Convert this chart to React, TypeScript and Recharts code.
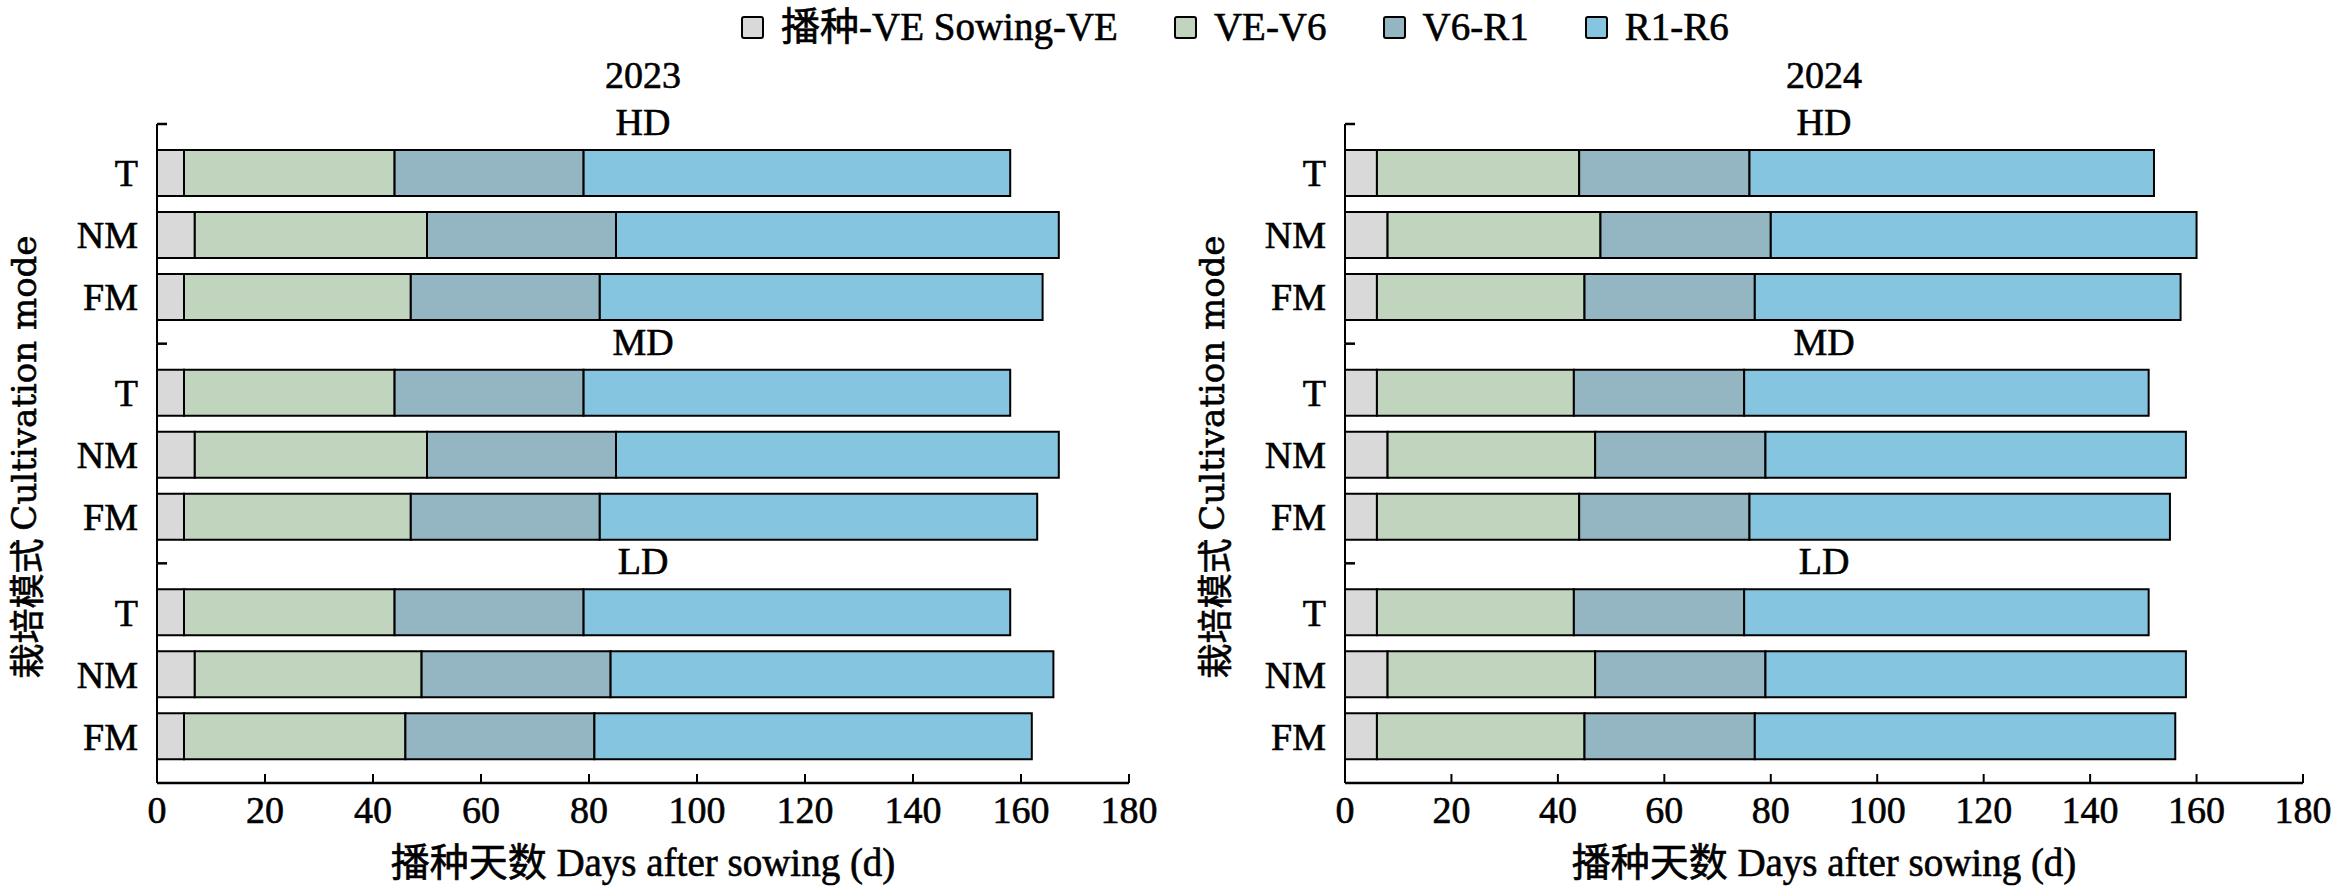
import React from "react";
import { BarChart, Bar, XAxis, YAxis, Legend } from "recharts";

const modes = ["T", "NM", "FM"];
const densities = ["HD", "MD", "LD"];
const stageNames = ["播种-VE Sowing-VE", "VE-V6", "V6-R1", "R1-R6"];
const stageColors = ["#D9D9D9", "#C1D4BE", "#94B6C2", "#86C5E0"];
const xTicks = [0, 20, 40, 60, 80, 100, 120, 140, 160, 180];

// stage length (d), rows: HD-T, HD-NM, HD-FM, MD-T, MD-NM, MD-FM, LD-T, LD-NM, LD-FM
const sowingVE2023 = [5, 7, 5, 5, 7, 5, 5, 7, 5];
const veV62023 = [39, 43, 42, 39, 43, 42, 39, 42, 41];
const v6R12023 = [35, 35, 35, 35, 35, 35, 35, 35, 35];
const r1R62023 = [79, 82, 82, 79, 82, 81, 79, 82, 81];

const sowingVE2024 = [6, 8, 6, 6, 8, 6, 6, 8, 6];
const veV62024 = [38, 40, 39, 37, 39, 38, 37, 39, 39];
const v6R12024 = [32, 32, 32, 32, 32, 32, 32, 32, 32];
const r1R62024 = [76, 80, 80, 76, 79, 79, 76, 79, 79];

const W = 1171;
const H = 895;
const groupTops = [124, 343.67, 563.33];
const groupH = 219.67;
const serif = "'Liberation Serif', 'Times New Roman', 'Noto Sans CJK SC', serif";
const txt = { fontFamily: serif, fontSize: 38, fontWeight: 400, fill: "#000", stroke: "#000", strokeWidth: 0.6 };

const stageKeys = ["s0", "s1", "s2", "s3"];

function renderLegend() {
  return (
    <div style={{ display: "flex", whiteSpace: "nowrap", fontFamily: serif, fontSize: 39, lineHeight: "30px", alignItems: "center", WebkitTextStroke: "0.6px #000" }}>
      {stageNames.map((n, i) => (
        <div key={n} style={{ display: "flex", alignItems: "center", marginRight: 56 }}>
          <span style={{ width: 19, height: 19, border: "2px solid #000", borderRadius: 3, background: stageColors[i], marginRight: 17, display: "inline-block" }} />
          <span>{n}</span>
        </div>
      ))}
    </div>
  );
}

function Panel({ year, series, left, yw, right, legend }) {
  const cx = (yw + (W - right)) / 2;
  return (
    <>
      {densities.map((d, g) => {
        const rows = modes.map((m, i) => ({
          mode: m,
          s0: series[0][g * 3 + i],
          s1: series[1][g * 3 + i],
          s2: series[2][g * 3 + i],
          s3: series[3][g * 3 + i],
        }));
        const top = groupTops[g];
        const last = g === densities.length - 1;
        const bottom = H - top - groupH;
        return (
          <div key={d} style={{ position: "absolute", left, top: 0 }}>
            <BarChart
              width={W}
              height={H}
              data={rows}
              layout="vertical"
              barSize={46}
              margin={{ top, bottom: last ? bottom - 60 : bottom, left: 0, right }}
            >
              <XAxis
                type="number"
                domain={[0, 180]}
                ticks={xTicks}
                hide={!last}
                height={60}
                axisLine={{ stroke: "#000", strokeWidth: 2.5 }}
                tickLine={{ stroke: "#000", strokeWidth: 2 }}
                tickSize={-9}
                tickMargin={22}
                tick={txt}
                interval={0}
              />
              <YAxis
                type="category"
                dataKey="mode"
                width={yw}
                tickLine={false}
                tickSize={0}
                tickMargin={19}
                axisLine={{ stroke: "#000", strokeWidth: 2 }}
                tick={txt}
                padding={{ top: 18, bottom: 15.67 }}
                interval={0}
              />
              {stageKeys.map((k, i) => (
                <Bar
                  key={k}
                  dataKey={k}
                  name={stageNames[i]}
                  stackId="a"
                  fill={stageColors[i]}
                  stroke="#000"
                  strokeWidth={2}
                  isAnimationActive={false}
                />
              ))}
              {legend && g === 0 && (
                <Legend
                  layout="horizontal"
                  verticalAlign="middle"
                  align="center"
                  wrapperStyle={{ left: 741, top: 12, width: "auto" }}
                  content={renderLegend}
                />
              )}
              <line x1={yw} x2={yw + 10} y1={top} y2={top} stroke="#000" strokeWidth={2.5} />
              <text x={cx} y={top - 2} textAnchor="middle" dominantBaseline="central" {...txt}>
                {d}
              </text>
              {g === 0 && (
                <text x={cx} y={75} textAnchor="middle" dominantBaseline="central" {...txt}>
                  {year}
                </text>
              )}
              {last && (
                <>
                  <text x={cx} y={876} textAnchor="middle" {...txt} fontSize={39}>
                    播种天数 Days after sowing (d)
                  </text>
                  <text
                    transform={`translate(${yw - 133},457) rotate(-90)`}
                    textAnchor="middle"
                    dominantBaseline="central"
                    fill="#000"
                    stroke="#000"
                    strokeWidth={0.6}
                  >
                    <tspan fontFamily="'Noto Sans CJK SC', sans-serif" fontSize={35}>栽培模式 </tspan>
                    <tspan fontFamily="'DejaVu Serif', serif" fontSize={34}>Cultivation mode</tspan>
                  </text>
                </>
              )}
            </BarChart>
          </div>
        );
      })}
    </>
  );
}

export default function App() {
  return (
    <div style={{ position: "absolute", left: 0, top: 0, width: 2342, height: 895, background: "#fff" }}>
      <Panel
        year="2023"
        series={[sowingVE2023, veV62023, v6R12023, r1R62023]}
        left={0}
        yw={157}
        right={42}
        legend
      />
      <Panel
        year="2024"
        series={[sowingVE2024, veV62024, v6R12024, r1R62024]}
        left={1171}
        yw={174}
        right={39}
        legend={false}
      />
    </div>
  );
}
